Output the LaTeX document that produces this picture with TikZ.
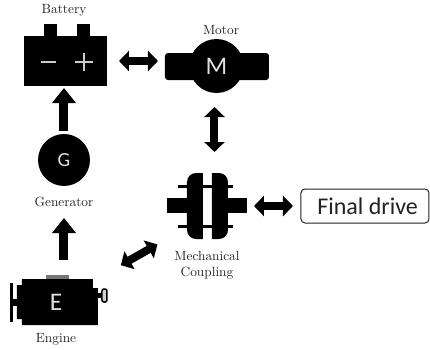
\documentclass[tikz,border=0pt]{standalone}
\usepackage{fontspec}
\usepackage{tikz}
\usetikzlibrary{arrows.meta, positioning}
\newfontfamily\iconfont{Carlito}
\newcommand{\px}{0.75pt}
\definecolor{inkblack}{HTML}{222222}
\definecolor{capgray}{HTML}{777777}

\begin{document}
\begin{tikzpicture}[x=0.75pt, y=-0.75pt,
    every node/.style={inner sep=0pt, outer sep=0pt},
    partlabel/.style={font=\normalsize, text=inkblack, align=center},
    iconletter/.style={font=\iconfont\fontsize{#1}{#1}\selectfont, text=white!88!black},
    onearrow/.style={line width=9*\px, -{Triangle[length=15*\px, width=23*\px]}},
    botharrow/.style={line width=8*\px, {Triangle[length=10*\px, width=20*\px]}-{Triangle[length=10*\px, width=20*\px]}}]

\useasboundingbox (0,0) rectangle (430,350);

% Battery
\fill (44,24) rectangle (57,40);
\fill (77,24) rectangle (90,40);
\node[fill=black, minimum width=83*\px, minimum height=50*\px] (battery) at (65.5,61) {};
\draw[line width=2*\px, gray!40] (41,62) -- (56,62);
\draw[line width=2*\px, gray!40] (75,62) -- (93,62) (84,53) -- (84,71);
\node[partlabel] (batterylabel) at (64,10) {Battery};

% Motor
\node[fill=black, rounded corners=3*\px, minimum width=104*\px, minimum height=27*\px] (motorbody) at (217,66.5) {};
\node[circle, fill=black, minimum size=54*\px, iconletter=19] (motor) at (216.5,66) {M};
\node[partlabel] (motorlabel) at (221,30) {Motor};

% Generator
\node[circle, fill=black, minimum size=52*\px, iconletter=15] (gen) at (64,160) {G};
\node[partlabel] (genlabel) at (64,202) {Generator};

% Engine
\fill (22,279) -- (93,279) -- (93,288) -- (98,288) -- (98,325) -- (22,325)
    -- (22,319) -- (17,319) -- (17,285) -- (22,285) -- cycle;
\fill (10,283) rectangle (13,322);
\fill (13,299) rectangle (17,306);
\fill[capgray] (46,275) rectangle (69,279);
\fill (98,293) rectangle (102,298);
\draw[line width=1.5*\px, fill=gray!35, rounded corners=2*\px] (102,289) rectangle (107,302);
\node[minimum width=81*\px, minimum height=46*\px, iconletter=19] (engine) at (56,302) {E};
\node[partlabel] (enginelabel) at (56,339) {Engine};

% Mechanical coupling
\node[minimum width=80*\px, minimum height=66*\px] (coupling) at (207,206) {};
\fill (178,184.5) rectangle (233,188);
\fill (178,224.5) rectangle (233,228);
\fill (167,198) rectangle (203,213);
\fill (212,198) rectangle (247,213);
\fill (203,173) [rounded corners=9*\px] -- (187,173) -- (187,239) [sharp corners] -- (203,239) -- cycle;
\fill (212,173) [rounded corners=9*\px] -- (228,173) -- (228,239) [sharp corners] -- (212,239) -- cycle;
\node[partlabel] (couplinglabel) at (207,265) {Mechanical\\Coupling};

% Final drive
\node[draw=inkblack, line width=1*\px, rounded corners=4*\px, minimum width=128*\px, minimum height=34*\px,
    font=\iconfont\fontsize{18}{18}\selectfont, text=inkblack] (final) at (365,206) {\hspace{4pt}Final drive};

% Arrows
\draw[onearrow, shorten <=3*\px, shorten >=2*\px] (gen.north) -- (gen.north |- battery.south);
\draw[onearrow, shorten <=19*\px, shorten >=32*\px] (gen.south |- engine.north) -- (gen.south);
\draw[botharrow, shorten <=12*\px, shorten >=7*\px] (battery.east) -- (battery.east -| motorbody.west);
\draw[botharrow, shorten <=14*\px, shorten >=21*\px] ([xshift=-2*\px]motor.south) -- ([xshift=-2*\px]motor.south |- coupling.north);
\draw[botharrow, shorten <=7*\px, shorten >=8*\px] (coupling.east) -- (final.west);
\draw[botharrow, shorten <=28*\px, shorten >=11*\px] (engine.north east) -- (coupling.south west);

\end{tikzpicture}
\end{document}
